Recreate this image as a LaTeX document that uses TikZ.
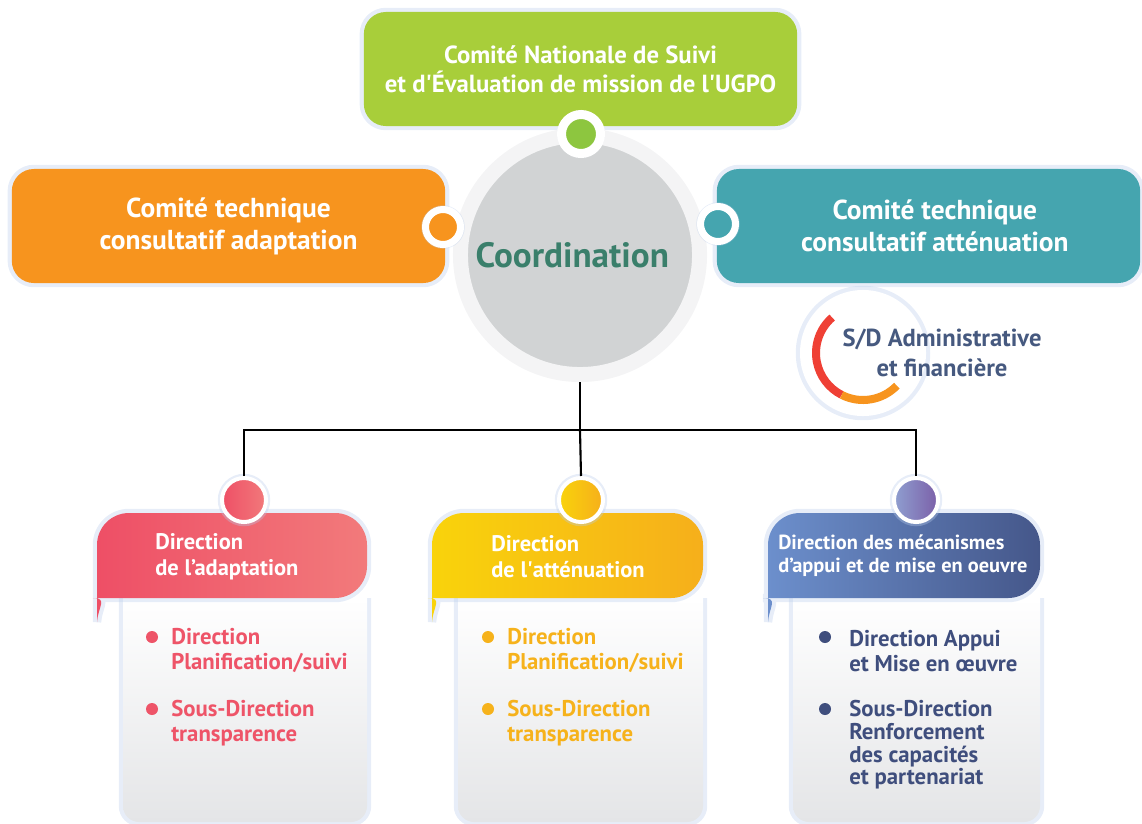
\documentclass[tikz,border=0pt]{standalone}
\usepackage{fontspec}
\setmainfont{PT Sans}

\definecolor{suivigreen}{HTML}{A8CE3A}
\definecolor{dotgreen}{HTML}{8DC63F}
\definecolor{adaptorange}{HTML}{F7941E}
\definecolor{attenteal}{HTML}{45A5AF}
\definecolor{coordgrey}{HTML}{D1D3D4}
\definecolor{ringwhite}{HTML}{F4F4F5}
\definecolor{coordtext}{HTML}{3A7F6B}
\definecolor{glowblue}{HTML}{B9CCEB}
\definecolor{cardgrey}{HTML}{E4E5E7}
\definecolor{redL}{HTML}{EE4F66}
\definecolor{redR}{HTML}{F27A7B}
\definecolor{redT}{HTML}{EE5468}
\definecolor{yelL}{HTML}{F9D30B}
\definecolor{yelR}{HTML}{F6AF1B}
\definecolor{yelT}{HTML}{F6B21B}
\definecolor{bluL}{HTML}{6C8FCC}
\definecolor{bluR}{HTML}{45578A}
\definecolor{bluT}{HTML}{3F4E7D}
\definecolor{purL}{HTML}{8F9FD0}
\definecolor{purR}{HTML}{7B5FA8}
\definecolor{sdred}{HTML}{EF4035}
\definecolor{sdtext}{HTML}{46597F}

\begin{document}
\begin{tikzpicture}[x=0.025cm, y=-0.025cm]

% Page size
\useasboundingbox (0,0) rectangle (1142,823);

% Styles for boxes, dots and texts
\tikzstyle{glow} = [preaction={draw=glowblue, line width=6pt, opacity=.35}]
\tikzstyle{comite} = [rectangle, rounded corners=0.55cm, glow, text=white, align=center,
                      font=\fontsize{19.5}{22.7}\selectfont\bfseries]
\tikzstyle{dot} = [circle, inner sep=0pt, draw=white, glow]
\tikzstyle{bullet} = [circle, inner sep=0pt, minimum size=0.3cm]
\tikzstyle{head} = [anchor=west, align=left, inner sep=0pt, text=white,
                    font=\fontsize{16}{18.5}\selectfont\bfseries]
\tikzstyle{item} = [anchor=west, align=left, inner sep=0pt, font=\fontsize{16.2}{17.8}\selectfont\bfseries]

% Top and side committees
\node[comite, fill=suivigreen, minimum width=10.83cm, minimum height=2.85cm,
      font=\fontsize{17.6}{20.6}\selectfont\bfseries] (suivi) at (580.5,69)
     {Comité Nationale de Suivi\\et d\textquotesingle Évaluation de mission de l\textquotesingle UGPO};
\node[comite, fill=adaptorange, minimum width=10.83cm, minimum height=2.85cm] (adapt) at (228.5,226)
     {Comité technique\\consultatif adaptation};
\node[comite, fill=attenteal, minimum width=10.58cm, minimum height=2.85cm] (attenu) at (928.5,226)
     {\hspace*{9pt}Comité technique\\\hspace*{9pt}consultatif atténuation};

% Coordination circle
\node[circle, glow, fill=coordgrey, draw=ringwhite, line width=0.375cm, minimum size=5.975cm,
      text=coordtext, font=\fontsize{25}{28}\selectfont\bfseries] (coord) at (580,255)
     {Coordination\hspace*{11pt}};

% Dots on the circle
\node[dot, fill=dotgreen, line width=0.225cm, minimum size=0.975cm] (dotTop) at (581,134) {};
\node[dot, fill=adaptorange, line width=0.175cm, minimum size=0.875cm] (dotL) at (443,227) {};
\node[dot, fill=attenteal, line width=0.175cm, minimum size=0.875cm] (dotR) at (718,224) {};

% S/D Administrative
\node[circle, glow, fill=white, minimum size=3.15cm] (sdaf) at (863,353) {};
\draw[sdred, line width=0.2cm] (sdaf.center) ++(-131:47) arc[start angle=-131, end angle=-243, radius=47];
\draw[adaptorange, line width=0.2cm] (sdaf.center) ++(-243:47) arc[start angle=-243, end angle=-316, radius=47];
\node[align=center, text=sdtext, font=\fontsize{17.5}{21}\selectfont\bfseries] (sdtxt) at (942,353)
     {S/D Administrative\\et financière};

% Card bodies
\shade[glow, top color=white, bottom color=cardgrey, rounded corners=0.4cm]
      (123,598) -- (123,822) -- (367,822) -- (367,598);
\shade[glow, top color=white, bottom color=cardgrey, rounded corners=0.4cm]
      (458,598) -- (458,822) -- (703,822) -- (703,598);
\shade[glow, top color=white, bottom color=cardgrey, rounded corners=0.4cm]
      (793,598) -- (793,822) -- (1040,822) -- (1040,598);

% Card headers
\shade[glow, left color=redL, right color=redR] (97,622) [rounded corners=0.8cm] -- (97,513)
      -- (367,513) -- (367,598) -- (125,598) [sharp corners] .. controls (108,598) and (98,607) .. (97,622) -- cycle;
\shade[glow, left color=yelL, right color=yelR] (432,622) [rounded corners=0.8cm] -- (432,513)
      -- (703,513) -- (703,598) -- (460,598) [sharp corners] .. controls (443,598) and (433,607) .. (432,622) -- cycle;
\shade[glow, left color=bluL, right color=bluR] (768,622) [rounded corners=0.8cm] -- (768,513)
      -- (1040,513) -- (1040,598) -- (795,598) [sharp corners] .. controls (779,598) and (769,607) .. (768,622) -- cycle;

\node[head] (dirA) at (155,557) {Direction\\de l’adaptation};
\node[head] (dirB) at (491,557) {Direction\\de l\textquotesingle atténuation};
\node[head, font=\fontsize{14.5}{16.4}\selectfont\bfseries] (dirC) at (778,555.5)
     {Direction des mécanismes\\d’appui et de mise en oeuvre};

% Dots on the cards
\node[dot, left color=redL, right color=redR, line width=0.1cm, minimum size=1.1cm] (dotA) at (244,500) {};
\node[dot, left color=yelL, right color=yelR, line width=0.1cm, minimum size=1.1cm] (dotB) at (581,500) {};
\node[dot, left color=purL, right color=purR, line width=0.1cm, minimum size=1.1cm] (dotC) at (916,500) {};

% Items
\node[bullet, fill=redT] (bA1) at (152,637) {};
\node[item, text=redT] (iA1) at (171,650.5) {Direction\\Planification/suivi};
\node[bullet, fill=redT] (bA2) at (152,709) {};
\node[item, text=redT] (iA2) at (171,723.5) {Sous-Direction\\transparence};

\node[bullet, fill=yelT] (bB1) at (488,637) {};
\node[item, text=yelT] (iB1) at (507,650.5) {Direction\\Planification/suivi};
\node[bullet, fill=yelT] (bB2) at (488,709) {};
\node[item, text=yelT] (iB2) at (507,723.5) {Sous-Direction\\transparence};

\node[bullet, fill=bluT] (bC1) at (825,637) {};
\node[item, text=bluT] (iC1) at (849,651) {Direction Appui\\et Mise en œuvre};
\node[bullet, fill=bluT] (bC2) at (825,709) {};
\node[item, text=bluT, font=\fontsize{16.2}{16.1}\selectfont\bfseries] (iC2) at (849,745)
     {Sous-Direction\\Renforcement\\des capacités\\et partenariat};

% Connectors
\coordinate (bus) at (580,430);
\draw[line width=1.5pt] (coord.south) -- (bus);
\draw[line width=1.5pt] (dotA.north) |- (bus) -| (dotC.north);
\draw[line width=1.5pt] (bus) -- (dotB.north);

\end{tikzpicture}
\end{document}
